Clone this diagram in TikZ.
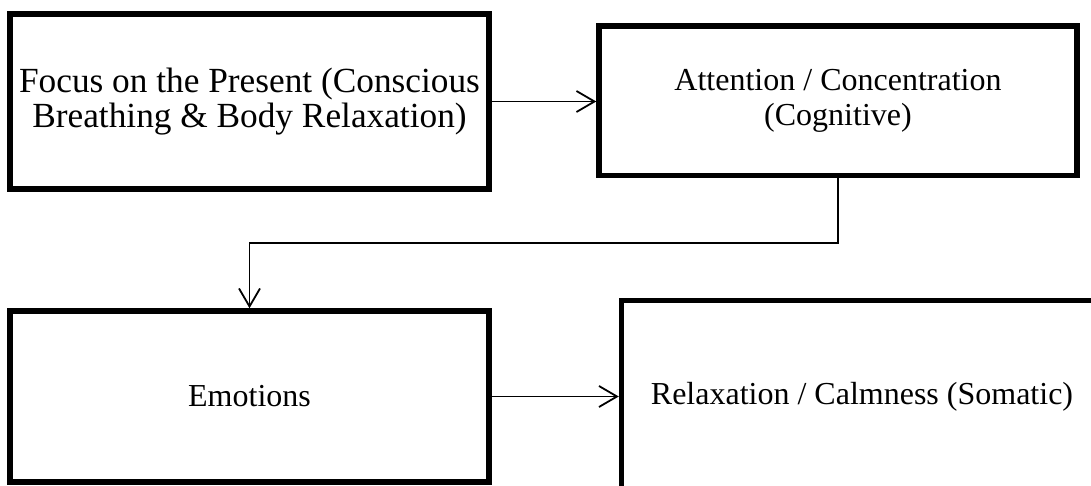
\documentclass[tikz,border=0pt]{standalone}
\usepackage{fontspec}
\setmainfont{Liberation Serif}
\usetikzlibrary{arrows.meta}
\begin{document}
\begin{tikzpicture}[x=1pt,y=-1pt,
  box/.style={draw=black,line width=5.5pt,inner sep=0pt,align=center,
    font=\fontsize{32}{35}\selectfont},
  arr/.style={draw=black,line width=1.8pt,-{Straight Barb[length=18pt,width=21pt,line width=1.8pt]}}]
\useasboundingbox (0,0) rectangle (1091,486);
\clip (0,0) rectangle (1091,486);
\node[box,minimum width=479pt,minimum height=175pt,font=\fontsize{35.3}{35}\selectfont] (b1) at (249.5,101.5)
  {Focus on the Present (Conscious\\Breathing \& Body Relaxation)};
\node[box,minimum width=478pt,minimum height=149.5pt] (b2) at (838,100.75)
  {Attention / Concentration\\(Cognitive)};
\node[box,minimum width=479pt,minimum height=171pt] (b3) at (249.5,396.5)
  {Emotions};
\node[box,minimum width=481pt,minimum height=193pt] (b4) at (862,397)
  {Relaxation / Calmness (Somatic)};
\draw[arr] (b1.east) -- (b2.west |- b1.east);
\draw[arr] (b2.south) -- ++(0,64.5) -| (b3.north);
\draw[arr] (b3.east) -- (b4.west |- b3.east);
\end{tikzpicture}
\end{document}
